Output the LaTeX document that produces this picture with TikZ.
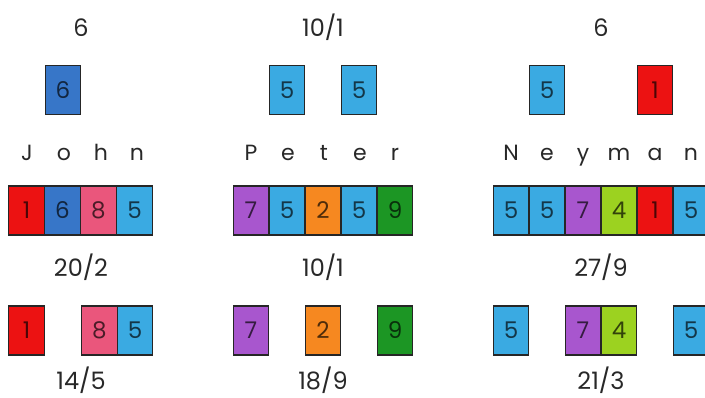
\documentclass[tikz,border=0pt]{standalone}
\usepackage{fontspec}
\setmainfont{Poppins}
\definecolor{cred}{RGB}{236,18,18}
\definecolor{cdblue}{RGB}{55,118,200}
\definecolor{cpink}{RGB}{234,86,124}
\definecolor{clblue}{RGB}{58,170,226}
\definecolor{cpurple}{RGB}{168,86,206}
\definecolor{corange}{RGB}{246,136,32}
\definecolor{cgreen}{RGB}{28,150,36}
\definecolor{clime}{RGB}{156,210,32}
\definecolor{ctext}{RGB}{40,40,40}
\tikzset{
  card/.style={draw=black!85, line width=1.4pt, minimum width=35.5pt, minimum height=49pt,
    inner sep=0pt, fill=#1, text=#1!32!black, font=\fontsize{23}{23}\selectfont},
  lbl/.style={text=ctext, font=\fontsize{24}{24}\selectfont, inner sep=0pt, anchor=base},
  letter/.style={text=ctext, font=\fontsize{22}{22}\selectfont, inner sep=0pt, anchor=base}
}
\begin{document}
\begin{tikzpicture}[x=1pt,y=1pt]
\useasboundingbox (0,0) rectangle (705,398);
% top labels
\node[lbl] (t1) at (81,361) {6};
\node[lbl] (t2) at (323,361) {10/1};
\node[lbl] (t3) at (601,361) {6};
% top cards
\node[card=cdblue] (a1) at (63,308) {6};
\node[card=clblue] (b1) at (287,308) {5};
\node[card=clblue] (b2) at (359,308) {5};
\node[card=clblue] (c1) at (547,308) {5};
\node[card=cred] (c2) at (655,308) {1};
% names
\node[letter] (j1) at (27,237) {J};
\node[letter] (j2) at (64,237) {o};
\node[letter] (j3) at (101,237) {h};
\node[letter] (j4) at (137,237) {n};
\node[letter] (p1) at (251,237) {P};
\node[letter] (p2) at (288,237) {e};
\node[letter] (p3) at (324,237) {t};
\node[letter] (p4) at (360,237) {e};
\node[letter] (p5) at (395,237) {r};
\node[letter] (n1) at (511,237) {N};
\node[letter] (n2) at (547,237) {e};
\node[letter] (n3) at (583,237) {y};
\node[letter] (n4) at (619,237) {m};
\node[letter] (n5) at (655,237) {a};
\node[letter] (n6) at (691,237) {n};
% main rows
\node[card=cred] (r11) at (26.5,187.5) {1};
\node[card=cdblue] (r12) at (62.5,187.5) {6};
\node[card=cpink] (r13) at (98.5,187.5) {8};
\node[card=clblue] (r14) at (134.5,187.5) {5};
\node[card=cpurple] (r21) at (251,187.5) {7};
\node[card=clblue] (r22) at (287,187.5) {5};
\node[card=corange] (r23) at (323,187.5) {2};
\node[card=clblue] (r24) at (359,187.5) {5};
\node[card=cgreen] (r25) at (395,187.5) {9};
\node[card=clblue] (r31) at (511,187.5) {5};
\node[card=clblue] (r32) at (547,187.5) {5};
\node[card=cpurple] (r33) at (583,187.5) {7};
\node[card=clime] (r34) at (619,187.5) {4};
\node[card=cred] (r35) at (655,187.5) {1};
\node[card=clblue] (r36) at (691,187.5) {5};
% middle labels
\node[lbl] (m1) at (81,121) {20/2};
\node[lbl] (m2) at (323,121) {10/1};
\node[lbl] (m3) at (601,121) {27/9};
% bottom cards
\node[card=cred] (s11) at (26.5,67.5) {1};
\node[card=cpink] (s12) at (99.5,67.5) {8};
\node[card=clblue] (s13) at (135,67.5) {5};
\node[card=cpurple] (s21) at (251,67.5) {7};
\node[card=corange] (s22) at (323,67.5) {2};
\node[card=cgreen] (s23) at (395,67.5) {9};
\node[card=clblue] (s31) at (511,67.5) {5};
\node[card=cpurple] (s32) at (583,67.5) {7};
\node[card=clime] (s33) at (619,67.5) {4};
\node[card=clblue] (s34) at (691,67.5) {5};
% bottom labels
\node[lbl] (b1l) at (81,8) {14/5};
\node[lbl] (b2l) at (323,8) {18/9};
\node[lbl] (b3l) at (601,8) {21/3};
\end{tikzpicture}
\end{document}
